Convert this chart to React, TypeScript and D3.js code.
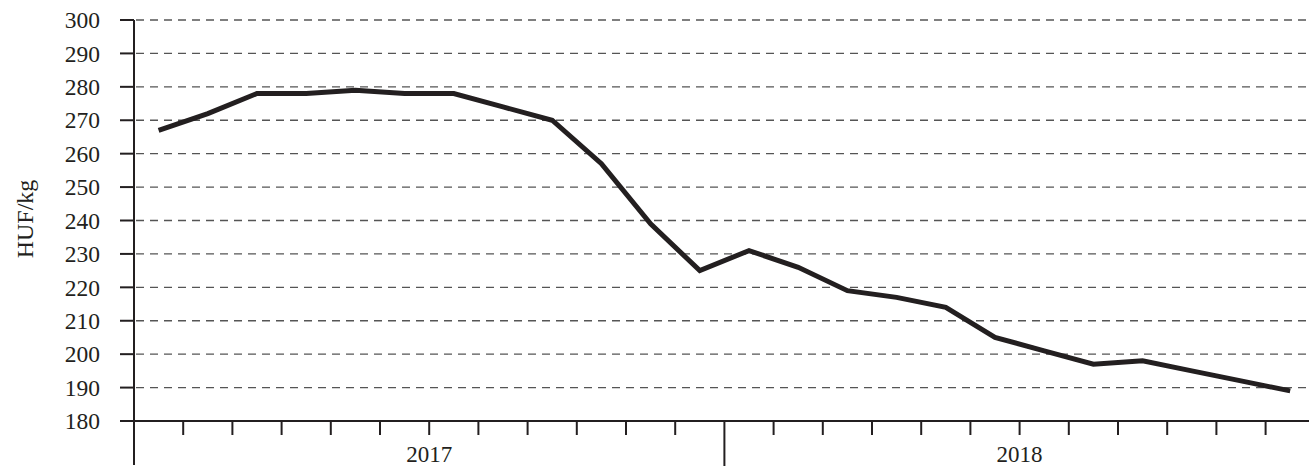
import React from "react";
import * as d3 from "d3";

const months = [
  "2017-01","2017-02","2017-03","2017-04","2017-05","2017-06","2017-07","2017-08","2017-09","2017-10","2017-11","2017-12",
  "2018-01","2018-02","2018-03","2018-04","2018-05","2018-06","2018-07","2018-08","2018-09","2018-10","2018-11","2018-12",
];
const prices = [267, 272, 278, 278, 279, 278, 278, 274, 270, 257, 239, 225, 231, 226, 219, 217, 214, 205, 201, 197, 198, 195, 192, 189];
const years = ["2017", "2018"];
const yTicks = [180, 190, 200, 210, 220, 230, 240, 250, 260, 270, 280, 290, 300];
const yLabel = "HUF/kg";

const W = 1309;
const H = 468;
const FONT = "'Liberation Serif', 'Times New Roman', serif";

export default function App() {
  const x = d3.scaleLinear().domain([0, months.length]).range([134, 134 + 24 * 49.2]);
  const y = d3.scaleLinear().domain([180, 300]).range([421, 20]);
  const line = d3
    .line<number>()
    .x((_, i) => x(i + 0.5))
    .y((d) => y(d));
  const ink = "#231f20";
  const boundaries = d3.range(0, months.length + 1);

  return (
    <svg width={W} height={H} style={{ position: "absolute", left: 0, top: 0, background: "#fff" }}>
      {yTicks.slice(1).map((t) => (
        <line key={"g" + t} x1={136} x2={W} y1={y(t)} y2={y(t)} stroke="#555" strokeWidth={1.3} strokeDasharray="8,6" />
      ))}
      {yTicks.map((t) => (
        <g key={"t" + t}>
          <line x1={120} x2={134} y1={y(t)} y2={y(t)} stroke={ink} strokeWidth={2} />
          <text x={100} y={y(t)} dy="0.35em" textAnchor="end" fontFamily={FONT} fontSize={23.5} fill={ink}>
            {t}
          </text>
        </g>
      ))}
      {boundaries.map((k) => {
        const major = k % 12 === 0;
        if (k === 0) return null;
        return (
          <line key={"x" + k} x1={x(k)} x2={x(k)} y1={y(180)} y2={major ? 466 : 435} stroke={ink} strokeWidth={2} />
        );
      })}
      <line x1={134} x2={134} y1={y(300)} y2={465} stroke={ink} strokeWidth={2} />
      <line x1={120} x2={W} y1={y(180)} y2={y(180)} stroke={ink} strokeWidth={2} />
      {years.map((yr, i) => (
        <text key={yr} x={(x(i * 12) + x(i * 12 + 12)) / 2} y={462} textAnchor="middle" fontFamily={FONT} fontSize={23} fill={ink}>
          {yr}
        </text>
      ))}
      <text
        transform={`translate(33, 219) rotate(-90)`}
        textAnchor="middle"
        fontFamily={FONT}
        fontSize={24}
        fill={ink}
      >
        {yLabel}
      </text>
      <path d={line(prices) || ""} fill="none" stroke={ink} strokeWidth={5} strokeLinejoin="miter" />
    </svg>
  );
}
